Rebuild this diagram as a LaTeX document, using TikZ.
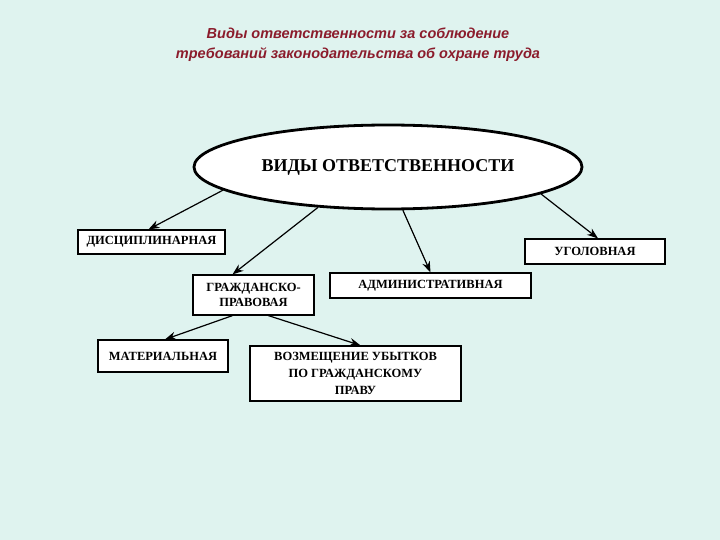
\documentclass[tikz,border=0pt]{standalone}
\usepackage{fontspec}
\setmainfont{Liberation Serif}
\newfontfamily\titlefont{Liberation Sans}
\usetikzlibrary{shapes.geometric,arrows.meta}
\definecolor{bg}{HTML}{DFF3EF}
\definecolor{ttl}{HTML}{8B1C2C}
\begin{document}
\begin{tikzpicture}[x=1pt,y=-1pt,
  box/.style={draw=black,line width=1.2pt,fill=white,font=\bfseries\fontsize{12.5}{15}\selectfont,align=center,inner sep=0pt},
  arr/.style={-{Stealth[length=11pt,width=8pt]},line width=1.2pt}]
\fill[bg] (0,0) rectangle (720,540);
\node[font=\titlefont\bfseries\itshape\fontsize{14.5}{20}\selectfont,text=ttl,align=center] (title) at (358,45) {Виды ответственности за соблюдение\\требований законодательства об охране труда};
\node[ellipse,draw,line width=2.8pt,fill=white,minimum width=388pt,minimum height=84pt,font=\bfseries\fontsize{18}{20}\selectfont] (ell) at (388,167) {ВИДЫ ОТВЕТСТВЕННОСТИ};
\node[box,minimum width=147pt,minimum height=24pt] (disc) at (151.5,242) {ДИСЦИПЛИНАРНАЯ};
\node[box,minimum width=140pt,minimum height=25pt] (ugol) at (595,251.5) {УГОЛОВНАЯ};
\node[box,minimum width=121pt,minimum height=40pt] (gp) at (253.5,295) {ГРАЖДАНСКО-\\ПРАВОВАЯ};
\node[box,minimum width=201pt,minimum height=25pt] (adm) at (430.5,285.5) {АДМИНИСТРАТИВНАЯ};
\node[box,minimum width=130pt,minimum height=32pt] (mat) at (163,356) {МАТЕРИАЛЬНАЯ};
\node[box,minimum width=211pt,minimum height=55pt,font=\bfseries\fontsize{12.5}{17}\selectfont] (voz) at (355.5,373.5) {ВОЗМЕЩЕНИЕ УБЫТКОВ\\ПО ГРАЖДАНСКОМУ\\ПРАВУ};
\draw[arr] (ell.188.7) -- ([xshift=-3pt]disc.north);
\draw[arr] (ell.210.6) -- ([xshift=-21pt]gp.north);
\draw[arr] (ell.289.7) -- (adm.north);
\draw[arr] (ell.350.4) -- ([xshift=3pt]ugol.north);
\draw[arr] ([xshift=-21pt]gp.south) -- ([xshift=2pt]mat.north);
\draw[arr] ([xshift=76pt]gp.south west) -- ([xshift=5pt]voz.north);
\end{tikzpicture}
\end{document}
